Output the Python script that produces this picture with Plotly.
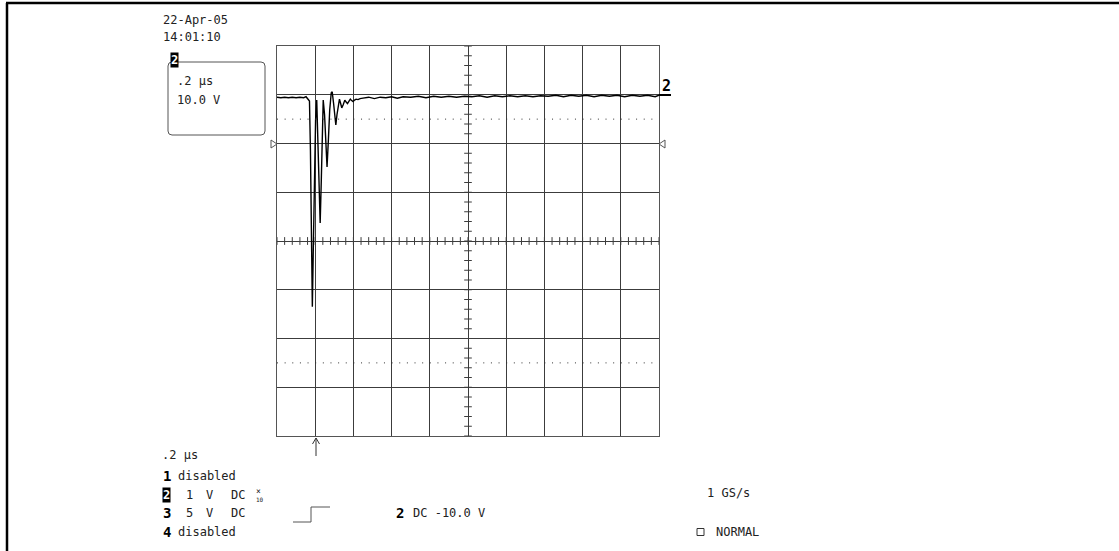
import plotly.graph_objects as go

# Channel 2 capture: time in microseconds, amplitude in volts
time_us = [
    -0.200, -0.180, -0.160, -0.140, -0.120, -0.100, -0.080, -0.060,
    -0.048, -0.038, -0.030, -0.025, -0.019, -0.015, -0.010, -0.004,
    0.002, 0.008, 0.014, 0.020, 0.026, 0.032, 0.037, 0.042, 0.049,
    0.056, 0.062, 0.069, 0.076, 0.084, 0.089, 0.096, 0.103, 0.108,
    0.114, 0.121, 0.127, 0.134, 0.139, 0.146, 0.155, 0.162, 0.169,
    0.177, 0.184, 0.191, 0.198, 0.206, 0.214, 0.224, 0.235,
    0.25, 0.28, 0.31, 0.34, 0.37, 0.40, 0.43, 0.46, 0.50, 0.54, 0.58,
    0.62, 0.66, 0.70, 0.74, 0.78, 0.82, 0.86, 0.90, 0.94, 0.98, 1.02,
    1.06, 1.10, 1.14, 1.18, 1.22, 1.26, 1.30, 1.34, 1.38, 1.42, 1.46,
    1.50, 1.54, 1.58, 1.62, 1.66, 1.70, 1.74, 1.78, 1.80,
]
volts = [
    9.5, 9.4, 9.5, 9.4, 9.5, 9.4, 9.5, 9.4,
    9.6, 9.2, 8.7, -1.3, -19.8, -33.5, -21.9, -5.4,
    4.8, 8.9, 0.7, -10.6, -16.3, -7.5, 3.8, 8.9, 5.9,
    -0.3, -4.8, 0.7, 6.9, 10.4, 10.6, 8.3, 4.8, 3.8,
    5.9, 8.3, 9.1, 8.1, 7.3, 7.9, 8.9, 8.5, 8.2,
    8.7, 9.1, 8.8, 8.6, 8.9, 9.1, 9.0, 9.2,
    9.3, 9.5, 9.2, 9.5, 9.4, 9.6, 9.3, 9.6, 9.5, 9.7, 9.4,
    9.7, 9.5, 9.7, 9.5, 9.7, 9.6, 9.8, 9.5, 9.8, 9.6, 9.8,
    9.6, 9.8, 9.6, 9.8, 9.7, 9.9, 9.6, 9.9, 9.7, 9.9, 9.6,
    9.9, 9.7, 9.9, 9.6, 9.9, 9.7, 9.9, 9.6, 9.9,
]

# Display settings: 0.2 us/div over 10 divisions, 10 V/div over 8 divisions
X_RANGE = [-0.2, 1.8]
Y_RANGE = [-60, 20]
X_DIV = 0.2
Y_DIV = 10
CENTER_T = 0.8
CENTER_V = -20
DOTTED_V = [-45, 5]

W, H = 1119, 551
L, R, T, B = 277, 659, 46, 436


def px(x):
    return (x - L) / (R - L)


def py(y):
    return (B - y) / (B - T)


FONT = "DejaVu Sans Mono"
INK = "#222222"
GRID = "#3c3c3c"

fig = go.Figure()
fig.add_trace(go.Scatter(
    x=time_us, y=volts, mode="lines",
    line=dict(color="black", width=1.4),
    hoverinfo="skip", showlegend=False,
))

shapes = []

# minor ticks along the centre cross-hair
t = X_RANGE[0]
while t <= X_RANGE[1] + 1e-9:
    shapes.append(dict(type="line", xref="x", yref="y", x0=t, x1=t,
                       y0=CENTER_V - 0.8, y1=CENTER_V + 0.8,
                       line=dict(color=GRID, width=1)))
    t += X_DIV / 5
v = Y_RANGE[0]
while v <= Y_RANGE[1] + 1e-9:
    shapes.append(dict(type="line", xref="x", yref="y",
                       x0=CENTER_T - 0.02, x1=CENTER_T + 0.02, y0=v, y1=v,
                       line=dict(color=GRID, width=1)))
    v += Y_DIV / 5

# dotted reference levels
for lv in DOTTED_V:
    shapes.append(dict(type="line", xref="x", yref="y",
                       x0=X_RANGE[0], x1=X_RANGE[1], y0=lv, y1=lv,
                       line=dict(color="#333333", width=1, dash="1px,6.64px")))

# outer frame (top and left edges)
shapes.append(dict(type="line", xref="paper", yref="paper",
                   x0=px(6), x1=px(1119), y0=py(3), y1=py(3),
                   line=dict(color="black", width=2.5)))
shapes.append(dict(type="line", xref="paper", yref="paper",
                   x0=px(7), x1=px(7), y0=py(3), y1=py(551),
                   line=dict(color="black", width=2.5)))


def rounded_rect(x0, y0, x1, y1, r):
    return (f"M {px(x0 + r)} {py(y0)} L {px(x1 - r)} {py(y0)} "
            f"Q {px(x1)} {py(y0)} {px(x1)} {py(y0 + r)} "
            f"L {px(x1)} {py(y1 - r)} Q {px(x1)} {py(y1)} {px(x1 - r)} {py(y1)} "
            f"L {px(x0 + r)} {py(y1)} Q {px(x0)} {py(y1)} {px(x0)} {py(y1 - r)} "
            f"L {px(x0)} {py(y0 + r)} Q {px(x0)} {py(y0)} {px(x0 + r)} {py(y0)} Z")


# scale readout box
shapes.append(dict(type="path", xref="paper", yref="paper",
                   path=rounded_rect(168, 62, 265, 135, 4),
                   line=dict(color="#555555", width=1)))

# ground-level markers on both sides of the graticule
shapes.append(dict(type="path", xref="paper", yref="paper",
                   path=f"M {px(271)} {py(140)} L {px(277)} {py(144)} L {px(271)} {py(148)} Z",
                   line=dict(color="#555555", width=1)))
shapes.append(dict(type="path", xref="paper", yref="paper",
                   path=f"M {px(665)} {py(140)} L {px(659)} {py(144)} L {px(665)} {py(148)} Z",
                   line=dict(color="#555555", width=1)))

# channel 2 position marker on the right
shapes.append(dict(type="line", xref="paper", yref="paper",
                   x0=px(659), x1=px(671), y0=py(95), y1=py(95),
                   line=dict(color="black", width=2)))

# trigger position arrow
shapes.append(dict(type="line", xref="paper", yref="paper",
                   x0=px(316), x1=px(316), y0=py(438), y1=py(456),
                   line=dict(color="#333333", width=1)))
shapes.append(dict(type="path", xref="paper", yref="paper",
                   path=f"M {px(312.5)} {py(444)} L {px(316)} {py(438)} L {px(319.5)} {py(444)}",
                   line=dict(color="#333333", width=1)))

# rising-edge trigger symbol
shapes.append(dict(type="path", xref="paper", yref="paper",
                   path=(f"M {px(293)} {py(522)} L {px(311)} {py(522)} "
                         f"L {px(311)} {py(507)} L {px(330)} {py(507)}"),
                   line=dict(color="#555555", width=1)))

# acquisition mode square
shapes.append(dict(type="rect", xref="paper", yref="paper",
                   x0=px(697), x1=px(704), y0=py(528.5), y1=py(535.5),
                   line=dict(color="#333333", width=1)))

annotations = []


def label(x, y, text, size=12, bold=False, color=INK, **kw):
    annotations.append(dict(
        xref="paper", yref="paper", x=px(x), y=py(y),
        xanchor="left", yanchor="middle", showarrow=False, borderpad=0,
        text=f"<b>{text}</b>" if bold else text,
        font=dict(family=FONT, size=size, color=color), **kw))


label(162, 20, "22-Apr-05")
label(162, 37, "14:01:10")
label(176, 81, ".2 µs")
label(176, 100, "10.0 V")
label(170, 60, "2", size=12, bold=True, color="white", bgcolor="black")

label(661, 86, "2", size=15, bold=True, color="black")

label(161, 455, ".2 µs")
label(162, 476, "1", size=14, bold=True, color="black")
label(177, 476, "disabled")
label(162, 495, "2", size=12, bold=True, color="white", bgcolor="black")
label(185, 495, "1")
label(205, 495, "V")
label(230, 495, "DC")
label(255, 491, "×", size=8)
label(254.5, 499, "10", size=6)
label(162, 513, "3", size=14, bold=True, color="black")
label(185, 513, "5")
label(205, 513, "V")
label(230, 513, "DC")
label(162, 532, "4", size=14, bold=True, color="black")
label(177, 532, "disabled")

label(395, 513, "2", size=14, bold=True, color="black")
label(412, 513, "DC -10.0 V")
label(706, 493, "1 GS/s")
label(715, 532, "NORMAL")

axis_common = dict(
    showgrid=True, gridcolor=GRID, gridwidth=1,
    showline=True, linecolor="#555555", linewidth=1, mirror=True,
    zeroline=False, ticks="", showticklabels=False, fixedrange=True,
)

fig.update_layout(
    width=W, height=H,
    margin=dict(l=L, r=W - R, t=T, b=H - B, pad=0),
    paper_bgcolor="white", plot_bgcolor="white",
    xaxis=dict(range=X_RANGE, tick0=X_RANGE[0], dtick=X_DIV, **axis_common),
    yaxis=dict(range=Y_RANGE, tick0=Y_RANGE[0], dtick=Y_DIV, **axis_common),
    shapes=shapes,
    annotations=annotations,
    showlegend=False,
)

fig.write_html("out.html")
